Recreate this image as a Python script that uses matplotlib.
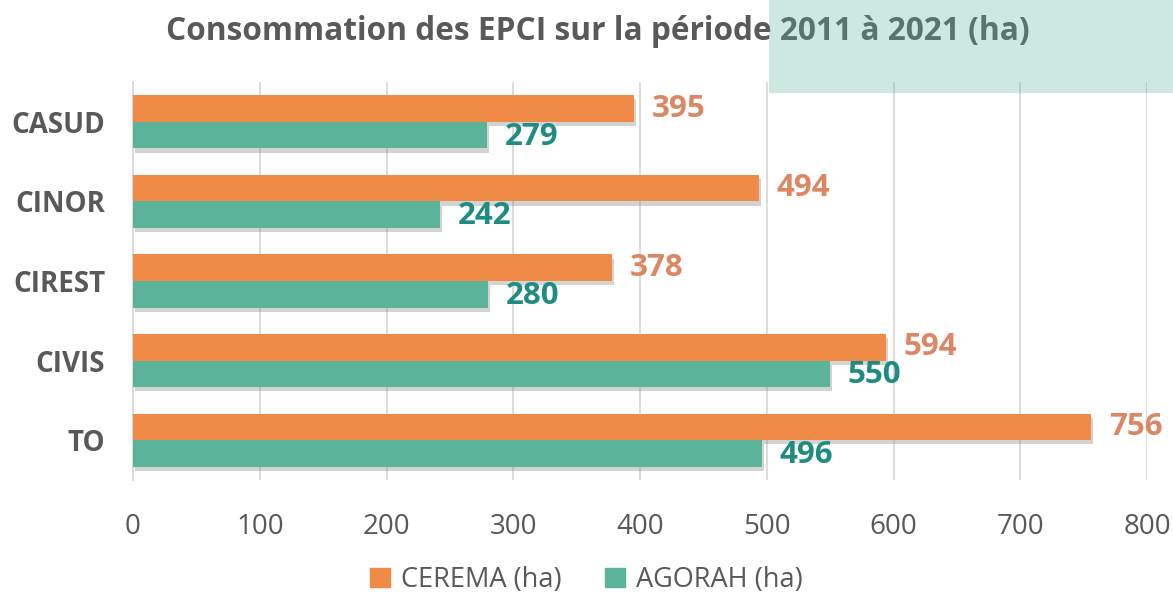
import numpy as np
import matplotlib.pyplot as plt
import matplotlib.patheffects as pe
from matplotlib.patches import Rectangle, Patch

categories = ['CASUD', 'CINOR', 'CIREST', 'CIVIS', 'TO']
cerema = [395, 494, 378, 594, 756]
agorah = [279, 242, 280, 550, 496]
xticks = [0, 100, 200, 300, 400, 500, 600, 700, 800]

c_orange = '#ef8b47'
c_green = '#5bb39a'
c_lab_orange = '#dc8763'
c_lab_green = '#1f8c82'
c_text = '#595959'

plt.rcParams['font.family'] = ['Open Sans', 'DejaVu Sans']

fig = plt.figure(figsize=(11.73, 5.96), dpi=100)
ax = fig.add_axes([0.1134, 0.1946, 0.8645, 0.6678])

y = np.arange(len(categories))
h = 1/3
shadow = [pe.withSimplePatchShadow(offset=(1.5, -3), shadow_rgbFace='#707070', alpha=0.3)]

ax.barh(y - h/2, cerema, height=h, color=c_orange, path_effects=shadow, zorder=3)
ax.barh(y + h/2, agorah, height=h, color=c_green, path_effects=shadow, zorder=3)

for i in range(len(categories)):
    ax.text(cerema[i] + 14, y[i] - h/2, str(cerema[i]), color=c_lab_orange, fontsize=22.5,
            fontweight='bold', va='center', ha='left')
    ax.text(agorah[i] + 14, y[i] + h/2 + 0.02, str(agorah[i]), color=c_lab_green, fontsize=22.5,
            fontweight='bold', va='center', ha='left')

ax.set_ylim(len(categories) - 0.5, -0.5)
ax.set_xlim(0, 800)
ax.set_yticks(y)
ax.set_yticklabels(categories, fontsize=20, fontweight='bold', color=c_text)
ax.set_xticks(xticks)
ax.set_xticklabels([str(v) for v in xticks], fontsize=20, color=c_text)
ax.tick_params(axis='both', length=0)
ax.tick_params(axis='y', pad=20)
ax.tick_params(axis='x', pad=24)

ax.grid(axis='x', color='#d9d9d9', linewidth=1.3, zorder=0)
ax.set_axisbelow(True)
for s in ['top', 'right', 'bottom']:
    ax.spines[s].set_visible(False)
ax.spines['left'].set_color('#d9d9d9')
ax.spines['left'].set_linewidth(1.3)

fig.text(0.5095, 0.947, 'Consommation des EPCI sur la période 2011 à 2021 (ha)', ha='center', va='center',
         fontsize=22.8, fontweight='bold', color=c_text)

handles = [Patch(color=c_orange, label='CEREMA (ha)'), Patch(color=c_green, label='AGORAH (ha)')]
fig.legend(handles=handles, loc='center', bbox_to_anchor=(0.5, 0.027), ncol=2, frameon=False,
           prop={'size': 19.5}, labelcolor=c_text, handlelength=0.75,
           handleheight=0.75, columnspacing=1.6, handletextpad=0.4, borderpad=0)

# translucent teal box over the top right corner
fig.patches.append(Rectangle((769/1173, 1 - 93/596), 404/1173, 93/596, transform=fig.transFigure,
                             facecolor=c_green, alpha=0.3, edgecolor='none', zorder=10))

fig.savefig('out.png', dpi=100)
